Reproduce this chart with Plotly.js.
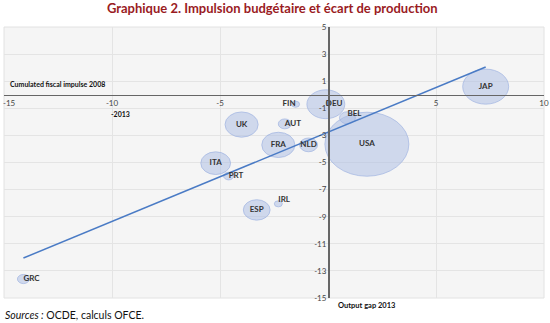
<!DOCTYPE html>
<html>
<head>
<meta charset="utf-8">
<script src="https://cdn.plot.ly/plotly-3.0.1.min.js"></script>
<style>
html,body{margin:0;padding:0;background:#fff;}
#chart{width:550px;height:323px;}
</style>
</head>
<body>
<div id="chart"></div>
<script>
// Data
const countries = ['JAP','USA','DEU','BEL','FIN','AUT','UK','FRA','NLD','ITA','PRT','ESP','IRL','GRC'];
const outputGap = [7.3, 1.8, -0.1, 0.9, -1.5, -2.0, -4.0, -2.3, -0.9, -5.2, -4.6, -3.3, -2.3, -14.1];
const fiscalImpulse = [0.6, -3.65, -0.7, -1.7, -0.7, -2.15, -2.2, -3.7, -3.7, -5.05, -6.0, -8.5, -8.05, -13.6];
const bubbleSize = [5.0, 16.7, 3.4, 0.6, 0.15, 0.4, 2.6, 2.6, 0.77, 2.1, 0.24, 1.7, 0.15, 0.34];
const trendX = [-14.1, 7.3];
const trendY = [-12.05, 2.05];
const xTickVals = [-15, -10, -5, 0, 5, 10];
const xTickText = ['-15', '-10', '-5', '0', '5', '10'];
const yTickVals = [5, 3, 1, -1, -3, -5, -7, -9, -11, -13, -15];
const yTickText = ['5', '3', '1', '-1', '-3', '-5', '-7', '-9', '-11', '-13', '-15'];

const labelPos = {JAP:'middle center', USA:'middle center', DEU:'middle right', BEL:'top right',
  FIN:'middle left', AUT:'middle right', UK:'middle center', FRA:'middle center', NLD:'middle center',
  ITA:'middle center', PRT:'middle right', ESP:'middle center', IRL:'top right', GRC:'middle right'};

const K = 0.4758, ASPECT = 1.215;
const shapes = countries.map((c, i) => {
  const rx = K * Math.sqrt(bubbleSize[i]);
  const ry = rx * ASPECT;
  return {type:'circle', xref:'x', yref:'y', layer:'between',
    x0: outputGap[i] - rx, x1: outputGap[i] + rx,
    y0: fiscalImpulse[i] - ry, y1: fiscalImpulse[i] + ry,
    fillcolor:'rgba(170,188,228,0.5)', line:{color:'rgba(160,180,225,0.7)', width:1}};
});
shapes.push({type:'rect', xref:'paper', yref:'paper', x0:0, x1:1, y0:0, y1:1,
  line:{color:'#e2e2e2', width:1}, layer:'below'});

// the leftmost tick label is drawn left-aligned so it stays inside the page
const xTickShown = xTickText.map((t, i) => i === 0 ? '' : t);

const traces = [
  {x: trendX, y: trendY, mode:'lines', line:{color:'#4a7bc5', width:1.5}, hoverinfo:'skip'},
  {x: outputGap, y: fiscalImpulse, text: countries, mode:'text',
   textposition: countries.map(c => labelPos[c]),
   textfont:{family:'Lato, sans-serif', size:8, color:'#333', weight:'bold'}}
];

const layout = {
  width:550, height:323,
  margin:{l:4, r:6, t:27, b:25},
  paper_bgcolor:'#ffffff', plot_bgcolor:'#f5f5f5',
  showlegend:false,
  font:{family:'Lato, sans-serif', size:8, color:'#444'},
  title:{text:'Graphique 2. Impulsion budgétaire et écart de production',
    font:{family:'Lato, sans-serif', size:13, color:'#9a1c1f', weight:'bold'},
    x:0.495, xanchor:'center', y:0.975, yanchor:'middle'},
  xaxis:{range:[-15,10], tickvals:xTickVals, ticktext:xTickShown, anchor:'free', position:0.75,
    showgrid:true, gridcolor:'#e4e4e4', gridwidth:1, zeroline:false,
    showline:true, linecolor:'#666', linewidth:1.5, ticks:'', ticklen:0,
    ticklabeloverflow:'allow', tickfont:{size:8, color:'#444'}},
  yaxis:{range:[-15,5], tickvals:yTickVals, ticktext:yTickText, anchor:'free', position:0.6,
    showgrid:true, gridcolor:'#e4e4e4', gridwidth:1, zeroline:false,
    showline:true, linecolor:'#666', linewidth:1.5, ticks:'', ticklen:0,
    ticklabeloverflow:'allow', tickfont:{size:8, color:'#444'}},
  shapes: shapes,
  annotations:[
    {text: xTickText[0], xref:'x', yref:'y', x: xTickVals[0], y: 0, xshift:-3, yshift:-1,
     xanchor:'left', yanchor:'top', showarrow:false,
     font:{family:'Lato, sans-serif', size:8, color:'#444'}},
    {text:'Cumulated fiscal impulse 2008', xref:'paper', yref:'paper', x:0.007, y:0.79,
     xanchor:'left', yanchor:'middle', showarrow:false,
     font:{family:'Lato, sans-serif', size:7, color:'#111', weight:'bold'}},
    {text:'-2013', xref:'paper', yref:'paper', x:0.216, y:0.68,
     xanchor:'center', yanchor:'middle', showarrow:false,
     font:{family:'Lato, sans-serif', size:7, color:'#111', weight:'bold'}},
    {text:'Output gap 2013', xref:'paper', yref:'paper', x:0.672, y:-0.027,
     xanchor:'center', yanchor:'middle', showarrow:false,
     font:{family:'Lato, sans-serif', size:7.5, color:'#111', weight:'bold'}},
    {text:'<i>Sources :</i> OCDE, calculs OFCE.', xref:'paper', yref:'paper', x:-0.002, y:-0.062,
     xanchor:'left', yanchor:'middle', showarrow:false,
     font:{family:'Lato, sans-serif', size:10.5, color:'#111'}}
  ]
};

Plotly.newPlot('chart', traces, layout, {displayModeBar:false, staticPlot:true});
</script>
</body>
</html>
